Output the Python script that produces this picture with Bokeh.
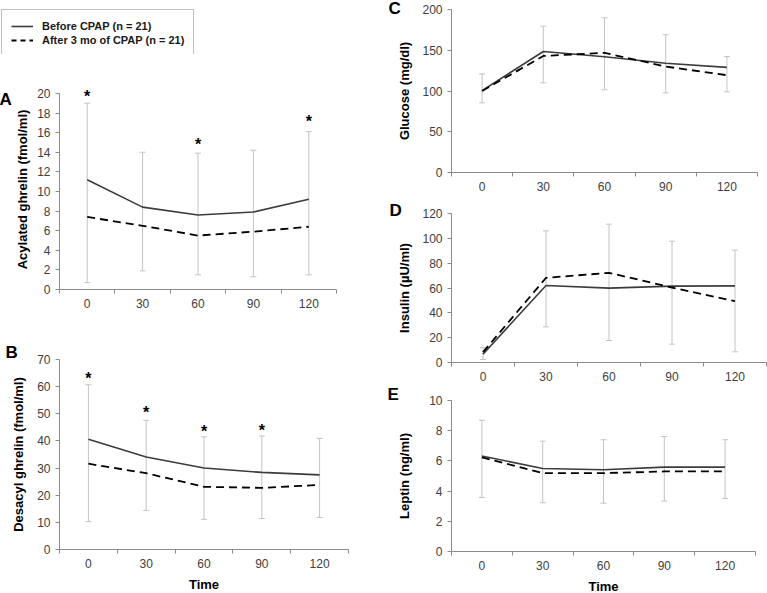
from bokeh.plotting import figure
from bokeh.layouts import row, column
from bokeh.models import (Range1d, FixedTicker, Whisker, TeeHead, ColumnDataSource,
                          Label, Legend, LegendItem)
from bokeh.embed import file_html
from bokeh.resources import INLINE

# ---------------- data ----------------
times = ["0", "30", "60", "90", "120"]

acyl_before = [11.2, 8.4, 7.6, 7.9, 9.2]
acyl_after = [7.4, 6.5, 5.5, 5.9, 6.4]
acyl_upper = [19.0, 14.0, 13.9, 14.2, 16.1]
acyl_lower = [0.7, 1.9, 1.5, 1.3, 1.5]
acyl_star_times = ["0", "60", "120"]
acyl_star_y = [20.1, 15.2, 17.5]
acyl_yticks = [0, 2, 4, 6, 8, 10, 12, 14, 16, 18, 20]

desacyl_before = [40.6, 34.1, 30.0, 28.4, 27.5]
desacyl_after = [31.6, 28.1, 23.1, 22.7, 23.8]
desacyl_upper = [60.7, 47.6, 41.5, 41.8, 40.9]
desacyl_lower = [10.3, 14.4, 11.1, 11.4, 11.8]
desacyl_star_times = ["0", "30", "60", "90"]
desacyl_star_y = [64.5, 52.1, 45.1, 45.5]
desacyl_yticks = [0, 10, 20, 30, 40, 50, 60, 70]

glucose_before = [100.5, 148.5, 142.0, 134.0, 129.0]
glucose_after = [100.0, 143.0, 146.8, 130.0, 119.4]
glucose_upper = [121.0, 179.5, 189.8, 169.0, 142.3]
glucose_lower = [85.5, 110.0, 101.4, 97.8, 99.0]
glucose_yticks = [0, 50, 100, 150, 200]

insulin_before = [6.7, 62.0, 59.9, 61.5, 61.7]
insulin_after = [8.3, 68.2, 72.2, 60.4, 49.4]
insulin_upper = [12.0, 106.0, 111.4, 97.7, 90.5]
insulin_lower = [2.4, 28.7, 17.7, 14.8, 8.6]
insulin_yticks = [0, 20, 40, 60, 80, 100, 120]

leptin_before = [6.32, 5.5, 5.41, 5.59, 5.59]
leptin_after = [6.23, 5.19, 5.19, 5.3, 5.3]
leptin_upper = [8.69, 7.31, 7.4, 7.62, 7.4]
leptin_lower = [3.58, 3.23, 3.2, 3.34, 3.51]
leptin_yticks = [0, 2, 4, 6, 8, 10]

legend_labels = ["Before CPAP (n = 21)", "After 3 mo of CPAP (n = 21)"]

# ---------------- style ----------------
FONT = "Liberation Sans"
AXIS_COLOR = "#8a8a8a"
TICK_TEXT = "#404040"
BAR_COLOR = "#c4c4c4"
SOLID_COLOR = "#3c3c3c"
DASH_COLOR = "#000000"


def panel(letter, ylabel, yticks, before, after, upper, lower, star_times, star_y,
          fw, fh, bl, br, bt, bb, letter_offset, letter_standoff, label_standoff,
          xlabel=None, headroom=0.0):
    n = len(times)
    xs = [i + 0.5 for i in range(n)]
    ymax = yticks[-1]
    p = figure(frame_width=fw, frame_height=fh,
               min_border_left=bl, min_border_right=br,
               min_border_top=bt, min_border_bottom=bb,
               x_range=Range1d(0, n), y_range=Range1d(0, ymax + headroom),
               output_backend="svg", toolbar_location=None)
    p.xgrid.visible = False
    p.ygrid.visible = False
    p.outline_line_color = None
    p.background_fill_color = "white"

    # panel letter as the plot title
    p.title.text = letter
    p.title.align = "left"
    p.title.offset = letter_offset
    p.title.standoff = letter_standoff
    p.title.vertical_align = "bottom"
    p.title.text_font = FONT
    p.title.text_font_style = "bold"
    p.title.text_font_size = "17px"
    p.title.text_color = "black"

    src = ColumnDataSource(dict(x=xs, upper=upper, lower=lower))
    w = Whisker(source=src, base="x", upper="upper", lower="lower",
                line_color=BAR_COLOR, line_width=1,
                upper_head=TeeHead(size=6, line_color=BAR_COLOR, line_width=1),
                lower_head=TeeHead(size=6, line_color=BAR_COLOR, line_width=1),
                level="underlay")
    p.add_layout(w)

    p.line(xs, before, line_color=SOLID_COLOR, line_width=1.6)
    p.line(xs, after, line_color=DASH_COLOR, line_width=1.8, line_dash="8 5")

    for t, yv in zip(star_times, star_y):
        p.add_layout(Label(x=times.index(t) + 0.5, y=yv, text="*",
                           text_align="center", text_baseline="middle", y_offset=-4,
                           text_font=FONT, text_font_style="bold",
                           text_font_size="16px", text_color="black"))

    xa = p.xaxis[0]
    xa.ticker = FixedTicker(ticks=xs, minor_ticks=list(range(n + 1)))
    xa.major_label_overrides = {x: t for x, t in zip(xs, times)}
    xa.major_tick_line_color = None
    xa.major_tick_out = 0
    xa.major_tick_in = 0
    xa.minor_tick_line_color = AXIS_COLOR
    xa.minor_tick_out = 4
    xa.minor_tick_in = 0
    xa.axis_line_color = AXIS_COLOR
    xa.major_label_standoff = 5
    xa.major_label_text_font = FONT
    xa.major_label_text_font_size = "12px"
    xa.major_label_text_color = TICK_TEXT
    if xlabel:
        xa.axis_label = xlabel
        xa.axis_label_text_font = FONT
        xa.axis_label_text_font_style = "bold"
        xa.axis_label_text_font_size = "13px"
        xa.axis_label_text_color = "black"
        xa.axis_label_standoff = 6

    ya = p.yaxis[0]
    ya.ticker = FixedTicker(ticks=yticks)
    ya.bounds = (0, ymax)
    ya.minor_tick_line_color = None
    ya.major_tick_line_color = AXIS_COLOR
    ya.major_tick_out = 4
    ya.major_tick_in = 0
    ya.axis_line_color = AXIS_COLOR
    ya.major_label_standoff = 5
    ya.major_label_text_font = FONT
    ya.major_label_text_font_size = "12px"
    ya.major_label_text_color = TICK_TEXT
    ya.axis_label = ylabel
    ya.axis_label_text_font = FONT
    ya.axis_label_text_font_style = "bold"
    ya.axis_label_text_font_size = "13px"
    ya.axis_label_text_color = "black"
    ya.axis_label_standoff = label_standoff
    return p


# ---------------- legend (own small figure) ----------------
lg = figure(width=370, height=54, x_axis_type=None, y_axis_type=None,
            min_border=0, min_border_left=0, min_border_right=0,
            min_border_top=0, min_border_bottom=0,
            x_range=Range1d(0, 1), y_range=Range1d(0, 1),
            output_backend="svg", toolbar_location=None)
lg.outline_line_color = None
nan = float("nan")
r1 = lg.line(x=[nan, nan], y=[nan, nan], line_color=SOLID_COLOR, line_width=1.6)
r2 = lg.line(x=[nan, nan], y=[nan, nan], line_color=DASH_COLOR, line_width=1.8,
             line_dash="5 4")
legend = Legend(items=[LegendItem(label=legend_labels[0], renderers=[r1]),
                       LegendItem(label=legend_labels[1], renderers=[r2])],
                location=(1, -3), margin=0, padding=9, spacing=0,
                glyph_width=22, glyph_height=14, label_height=14, label_standoff=9,
                label_text_font=FONT, label_text_font_style="bold",
                label_text_font_size="11px", label_text_color="#1a1a1a",
                border_line_color="#808080", border_line_width=1,
                background_fill_color="white")
lg.add_layout(legend)

# A: small headroom so the star above 20 is not cut (9.8 px per unit kept)
pA = panel("A", "Acylated ghrelin (fmol/ml)", acyl_yticks, acyl_before, acyl_after,
           acyl_upper, acyl_lower, acyl_star_times, acyl_star_y,
           fw=277, fh=200, bl=59, br=34, bt=35, bb=51,
           letter_offset=-60, letter_standoff=-38, label_standoff=4, headroom=0.4)
pB = panel("B", "Desacyl ghrelin (fmol/ml)", desacyl_yticks, desacyl_before, desacyl_after,
           desacyl_upper, desacyl_lower, desacyl_star_times, desacyl_star_y,
           fw=289, fh=190, bl=58, br=23, bt=19, bb=44,
           letter_offset=-54, letter_standoff=-4, label_standoff=8, xlabel="Time")
pC = panel("C", "Glucose (mg/dl)", glucose_yticks, glucose_before, glucose_after,
           glucose_upper, glucose_lower, [], [],
           fw=306, fh=163, bl=80, br=11, bt=9, bb=24,
           letter_offset=-63, letter_standoff=-16, label_standoff=7)
pD = panel("D", "Insulin (µU/ml)", insulin_yticks, insulin_before, insulin_after,
           insulin_upper, insulin_lower, [], [],
           fw=315, fh=149, bl=81, br=1, bt=17, bb=20,
           letter_offset=-62, letter_standoff=-12, label_standoff=7)
pE = panel("E", "Leptin (ng/ml)", leptin_yticks, leptin_before, leptin_after,
           leptin_upper, leptin_lower, [], [],
           fw=304, fh=151, bl=81, br=12, bt=17, bb=43,
           letter_offset=-64, letter_standoff=-6, label_standoff=14, xlabel="Time")

layout = row(column(row(lg), pA, pB), column(pC, pD, pE))

open("out.html", "w").write(file_html(layout, INLINE))
